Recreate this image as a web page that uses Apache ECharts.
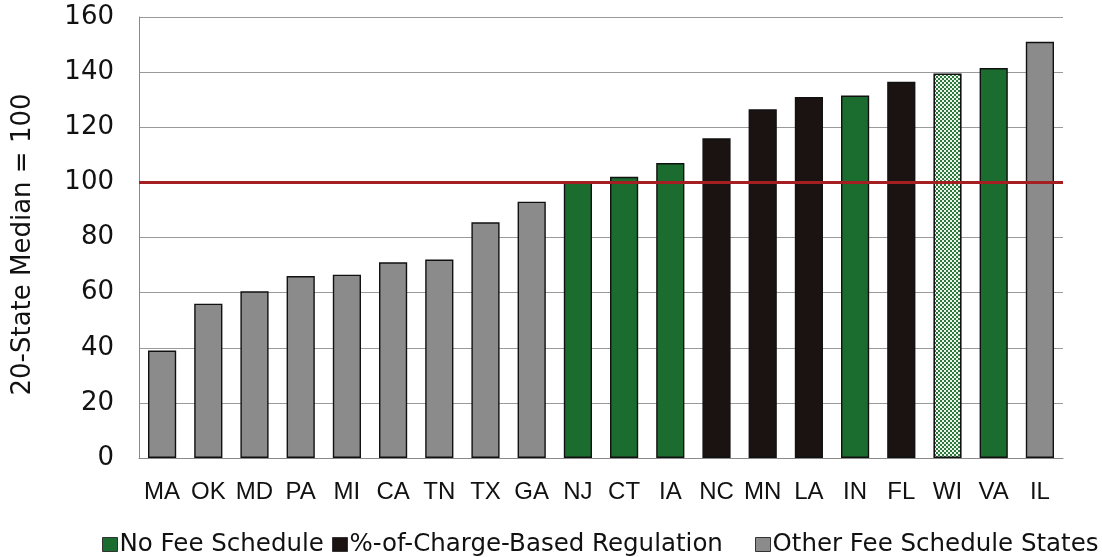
<!DOCTYPE html>
<html>
<head>
<meta charset="utf-8">
<title>Relative Prices by State</title>
<script src="https://cdn.jsdelivr.net/npm/echarts@6/dist/echarts.min.js"></script>
<style>
  html, body { margin: 0; padding: 0; background: #ffffff; }
  #chart { width: 1102px; height: 557px; }
</style>
</head>
<body>
<div id="chart"></div>
<script>
// States, index values (20-state median = 100) and regulatory group per state
const states = ['MA', 'OK', 'MD', 'PA', 'MI', 'CA', 'TN', 'TX', 'GA', 'NJ',
                'CT', 'IA', 'NC', 'MN', 'LA', 'IN', 'FL', 'WI', 'VA', 'IL'];
const values = [39, 56, 60.5, 66, 66.5, 71, 72, 85.5, 93, 100.5,
                102, 107, 116, 126.5, 131, 131.5, 136.5, 139.5, 141.5, 151];
const groups = ['other', 'other', 'other', 'other', 'other', 'other', 'other', 'other', 'other', 'nofee',
                'nofee', 'nofee', 'pct', 'pct', 'pct', 'nofee', 'pct', 'nofee', 'nofee', 'other'];
const hatchedStates = ['WI'];
const medianLevel = 100;
const yTicks = { min: 0, max: 160, step: 20 };

const seriesDefs = [
  { key: 'nofee', name: 'No Fee Schedule', color: '#1b6d2f' },
  { key: 'pct', name: '%-of-Charge-Based Regulation', color: '#1a1311' },
  { key: 'other', name: 'Other Fee Schedule States', color: '#8b8b8b' }
];

// Small green/white checker tile for the hatched bar
function checkerTile() {
  const c = document.createElement('canvas');
  c.width = 4; c.height = 4;
  const g = c.getContext('2d');
  g.fillStyle = '#eef3ee';
  g.fillRect(0, 0, 4, 4);
  g.fillStyle = '#2b7a3c';
  g.fillRect(0, 0, 2, 2);
  g.fillRect(2, 2, 2, 2);
  return c;
}
const checker = { image: checkerTile(), repeat: 'repeat' };

const chart = echarts.init(document.getElementById('chart'), null, { renderer: 'canvas' });

const series = seriesDefs.map((def, si) => ({
  name: def.name,
  type: 'bar',
  stack: 'all',
  barCategoryGap: '39%',
  itemStyle: { color: def.color, borderColor: '#111111', borderWidth: 1.4 },
  data: values.map((v, i) => {
    if (groups[i] !== def.key) return '-';
    if (hatchedStates.includes(states[i])) {
      return { value: v, itemStyle: { color: checker, borderColor: '#111111', borderWidth: 1.6 } };
    }
    return v;
  }),
  markLine: si === 0 ? {
    silent: true,
    symbol: 'none',
    label: { show: false },
    lineStyle: { color: '#a41e22', width: 3, type: 'solid' },
    data: [{ yAxis: medianLevel }]
  } : undefined
}));

const legendLeft = [97, 327, 750];
const legends = seriesDefs.map((def, i) => ({
  data: [def.name],
  left: legendLeft[i],
  top: 527,
  icon: 'rect',
  itemWidth: 15,
  itemHeight: 14,
  itemGap: 0,
  itemStyle: { borderColor: '#333333', borderWidth: 1 },
  textStyle: { fontFamily: 'DejaVu Sans', fontSize: 24.5, color: '#111111', padding: [0, 0, 0, -3] }
}));

chart.setOption({
  animation: false,
  backgroundColor: '#ffffff',
  legend: legends,
  grid: { left: 139, right: 39, top: 17, bottom: 99 },
  xAxis: {
    type: 'category',
    data: states,
    axisLine: { show: true, lineStyle: { color: '#8a8a8a', width: 1 } },
    axisTick: { show: false },
    axisLabel: { interval: 0, fontFamily: 'Liberation Sans', fontSize: 24, color: '#111111', margin: 22 }
  },
  yAxis: {
    type: 'value',
    min: yTicks.min,
    max: yTicks.max,
    interval: yTicks.step,
    name: '20-State Median = 100',
    nameLocation: 'middle',
    nameGap: 103,
    nameTextStyle: { fontFamily: 'DejaVu Sans', fontSize: 26, color: '#111111', padding: [0, 14, 0, 0] },
    axisLine: { show: true, lineStyle: { color: '#8a8a8a', width: 1 } },
    axisTick: { show: false },
    axisLabel: { fontFamily: 'DejaVu Sans', fontSize: 26, color: '#111111', margin: 25 },
    splitLine: { show: true, lineStyle: { color: '#9a9a9a', width: 1 } }
  },
  series: series
});
</script>
</body>
</html>
